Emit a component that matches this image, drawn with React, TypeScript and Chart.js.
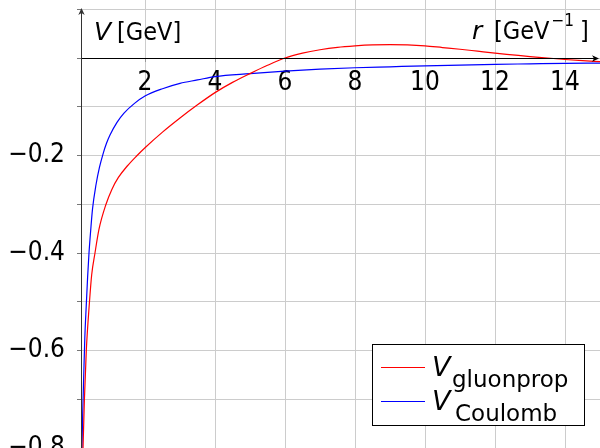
import React, { useEffect, useRef } from "react";
import { Chart, registerables } from "chart.js";

Chart.register(...registerables);

// r in GeV^-1, V in GeV
const rCoulomb = [0.2, 0.22, 0.25, 0.28, 0.32, 0.36, 0.4, 0.45, 0.5, 0.6, 0.7, 0.8, 0.9, 1.0, 1.2, 1.4, 1.7, 2.0, 2.5, 3.0, 3.5, 4.0, 5.0, 6.0, 7.0, 8.0, 9.0, 10.0, 11.0, 12.0, 13.0, 14.0, 15.0];
const vCoulomb = [-0.8, -0.73, -0.65, -0.575, -0.51, -0.45, -0.4, -0.352, -0.31, -0.26, -0.224, -0.197, -0.175, -0.158, -0.132, -0.113, -0.093, -0.078, -0.063, -0.052, -0.045, -0.038, -0.032, -0.027, -0.023, -0.02, -0.018, -0.016, -0.0145, -0.013, -0.012, -0.011, -0.0105];

const rGluon = [0.2, 0.229, 0.269, 0.323, 0.414, 0.476, 0.571, 0.686, 0.886, 1.05, 1.24, 1.5, 1.76, 2.0, 2.5, 3.0, 3.5, 4.0, 4.5, 5.0, 5.5, 6.0, 6.5, 7.0, 7.5, 8.0, 8.5, 9.0, 9.5, 10.0, 10.5, 11.0, 11.5, 12.0, 12.5, 13.0, 13.5, 14.0, 14.5, 15.0];
const vGluon = [-0.9, -0.8, -0.7, -0.6, -0.5, -0.445, -0.4, -0.351, -0.3, -0.27, -0.245, -0.221, -0.201, -0.184, -0.152, -0.123, -0.096, -0.071, -0.05, -0.032, -0.015, 0.0, 0.01, 0.017, 0.022, 0.025, 0.027, 0.0275, 0.027, 0.025, 0.0215, 0.018, 0.014, 0.01, 0.0065, 0.003, 0.0, -0.003, -0.0055, -0.0075];

const xTicks = [2, 4, 6, 8, 10, 12, 14];
const yTicks = [-0.8, -0.7, -0.6, -0.5, -0.4, -0.3, -0.2, -0.1, 0, 0.1];
const yLabelled = [-0.8, -0.6, -0.4, -0.2];

const X_MIN = 0.2;
const X_MAX = 15;
const Y_MIN = -0.8;
const Y_MAX = 0.119;

const seriesNames = ["gluonprop", "Coulomb"];
const seriesColors = ["#ff0000", "#0000ff"];

function toPoints(xs: number[], ys: number[]) {
  return xs.map((x, i) => ({ x, y: ys[i] }));
}

function arrowHead(ctx: CanvasRenderingContext2D, x: number, y: number, dir: "up" | "right") {
  const L = 7, W = 3.2, N = 2;
  ctx.beginPath();
  if (dir === "right") {
    ctx.moveTo(x, y);
    ctx.lineTo(x - L, y - W);
    ctx.lineTo(x - L + N, y);
    ctx.lineTo(x - L, y + W);
  } else {
    ctx.moveTo(x, y);
    ctx.lineTo(x - W, y + L);
    ctx.lineTo(x, y + L - N);
    ctx.lineTo(x + W, y + L);
  }
  ctx.closePath();
  ctx.fill();
}

const overlay = {
  id: "overlay",
  afterDraw(chart: any) {
    const ctx: CanvasRenderingContext2D = chart.ctx;
    const { left, bottom } = chart.chartArea;
    const ys = chart.scales.y;
    const y0 = Math.round(ys.getPixelForValue(0)) + 0.5;
    ctx.save();
    // x axis with arrow
    ctx.strokeStyle = "#000";
    ctx.fillStyle = "#000";
    ctx.lineWidth = 1;
    ctx.beginPath();
    ctx.moveTo(left - 1, y0);
    ctx.lineTo(596, y0);
    ctx.stroke();
    arrowHead(ctx, 599, y0, "right");
    // y axis with arrow
    const xa = left - 0.5;
    ctx.strokeStyle = "#333";
    ctx.fillStyle = "#333";
    ctx.beginPath();
    ctx.moveTo(xa, bottom);
    ctx.lineTo(xa, 11);
    ctx.stroke();
    arrowHead(ctx, xa, 8, "up");

    // axis labels
    ctx.fillStyle = "#000";
    ctx.textBaseline = "alphabetic";
    ctx.textAlign = "left";
    ctx.font = 'italic 25px "DejaVu Sans"';
    ctx.fillText("V", 94, 40);
    ctx.font = '25px "DejaVu Sans Condensed", "DejaVu Sans"';
    ctx.fillText("[GeV]", 117, 40);

    ctx.font = 'italic 25px "DejaVu Sans"';
    ctx.fillText("r", 472, 39);
    ctx.font = '25px "DejaVu Sans Condensed", "DejaVu Sans"';
    ctx.fillText("[GeV", 494, 39);
    const wGeV = ctx.measureText("[GeV").width;
    ctx.font = '17px "DejaVu Sans Condensed", "DejaVu Sans"';
    ctx.fillText("−1", 494 + wGeV + 2, 26);
    ctx.font = '25px "DejaVu Sans Condensed", "DejaVu Sans"';
    ctx.fillText("]", 580, 39);

    // legend
    const bx = 372.5, by = 344.5, bw = 212, bh = 81;
    ctx.fillStyle = "#fff";
    ctx.fillRect(bx, by, bw, bh);
    ctx.strokeStyle = "#000";
    ctx.lineWidth = 1;
    ctx.strokeRect(bx, by, bw, bh);
    const rows = [
      { lineY: 367.5, vBase: 376, subX: 452, subBase: 387 },
      { lineY: 401.5, vBase: 410, subX: 455, subBase: 421 },
    ];
    rows.forEach((row, i) => {
      ctx.strokeStyle = seriesColors[i];
      ctx.lineWidth = 1.2;
      ctx.beginPath();
      ctx.moveTo(381, row.lineY);
      ctx.lineTo(425, row.lineY);
      ctx.stroke();
      ctx.fillStyle = "#000";
      ctx.font = 'italic 27px "DejaVu Sans"';
      ctx.fillText("V", 432, row.vBase);
      ctx.font = '23px "DejaVu Sans"';
      ctx.fillText(seriesNames[i], row.subX, row.subBase);
    });
    ctx.restore();
  },
};

export default function App() {
  const canvasRef = useRef<HTMLCanvasElement | null>(null);

  useEffect(() => {
    if (!canvasRef.current) return;
    const chart = new Chart(canvasRef.current, {
      type: "line",
      data: {
        datasets: [
          {
            label: "V gluonprop",
            data: toPoints(rGluon, vGluon),
            borderColor: seriesColors[0],
            borderWidth: 1.2,
            pointRadius: 0,
            fill: false,
            cubicInterpolationMode: "monotone",
          },
          {
            label: "V Coulomb",
            data: toPoints(rCoulomb, vCoulomb),
            borderColor: seriesColors[1],
            borderWidth: 1.2,
            pointRadius: 0,
            fill: false,
            cubicInterpolationMode: "monotone",
          },
        ],
      },
      options: {
        responsive: false,
        animation: false,
        parsing: true,
        layout: { padding: 0 },
        plugins: {
          legend: { display: false },
          tooltip: { enabled: false },
          title: { display: false },
        },
        scales: {
          x: {
            type: "linear",
            position: { y: 0 } as any,
            min: X_MIN,
            max: X_MAX,
            afterBuildTicks: (scale: any) => {
              scale.ticks = xTicks.map((v) => ({ value: v }));
            },
            ticks: {
              color: "#000",
              padding: 6,
              autoSkip: false,
              maxRotation: 0,
              font: { family: '"Liberation Sans Narrow", "DejaVu Sans Condensed", "DejaVu Sans"', size: 26 },
              callback: (v: any) => String(v),
            },
            grid: { color: "#cccccc", lineWidth: 1, drawTicks: true, tickLength: 4, tickColor: "#999" },
            border: { display: false },
          },
          y: {
            type: "linear",
            position: "left",
            min: Y_MIN,
            max: Y_MAX,
            afterBuildTicks: (scale: any) => {
              scale.ticks = yTicks.map((v) => ({ value: v }));
            },
            afterFit: (scale: any) => {
              scale.width = 82;
              scale.paddingTop = 0;
              scale.paddingBottom = 0;
            },
            ticks: {
              color: "#000",
              padding: 12,
              autoSkip: false,
              font: { family: '"DejaVu Sans Condensed", "DejaVu Sans"', size: 26 },
              callback: (v: any) => {
                const n = Number(v);
                const hit = yLabelled.some((t) => Math.abs(t - n) < 1e-6);
                return hit ? "−" + Math.abs(n).toFixed(1) : "";
              },
            },
            grid: { color: "#cccccc", lineWidth: 1, drawTicks: true, tickLength: 5, tickColor: "#777" },
            border: { display: false },
          },
        },
      },
      plugins: [overlay],
    });
    return () => chart.destroy();
  }, []);

  return (
    <div style={{ position: "absolute", left: 0, top: 0, width: 600, height: 448, background: "#fff" }}>
      <canvas ref={canvasRef} width={600} height={448} style={{ display: "block" }} />
    </div>
  );
}
